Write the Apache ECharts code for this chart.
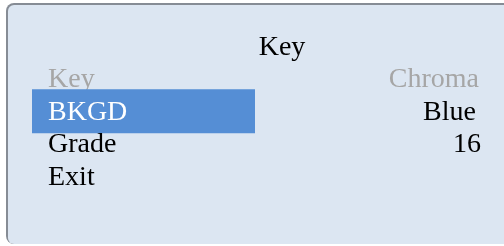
<!DOCTYPE html>
<html>
<head>
<meta charset="utf-8">
<script src="https://cdn.jsdelivr.net/npm/echarts@6/dist/echarts.min.js"></script>
<style>html,body{margin:0;padding:0;background:#fff;}#c{width:504px;height:246px;}</style>
</head>
<body>
<div id="c"></div>
<script>
// ---- data ----
var menuTitle = 'Key';
var menuItems = ['Key', 'BKGD', 'Grade', 'Exit'];
var menuValues = ['Chroma', 'Blue', '16', ''];
var itemState = ['disabled', 'selected', 'normal', 'normal'];

// ---- layout / style ----
var valueRightX = [479, 476, 481, 479];
var FONT = '"Liberation Serif", "Times New Roman", serif';

var chart = echarts.init(document.getElementById('c'), null, {renderer: 'canvas'});
chart.setOption({
  animation: false,
  backgroundColor: '#ffffff',
  grid: {left: 0, right: 0, top: 63, height: 130},
  xAxis: {type: 'value', min: 0, max: 504, show: false},
  yAxis: {type: 'category', data: menuItems, inverse: true, show: false},
  graphic: [
    {type: 'rect', z: 0, shape: {x: 6, y: 3, width: 510, height: 241, r: 8}, style: {fill: '#868c95'}},
    {type: 'rect', z: 1, shape: {x: 8, y: 5, width: 510, height: 239, r: 6}, style: {fill: '#dce6f2'}},
    {type: 'text', z: 5, x: 282, y: 48, style: {text: menuTitle, font: '28px ' + FONT, fill: '#000', align: 'center', verticalAlign: 'middle'}}
  ],
  series: [{
    type: 'custom',
    z: 10,
    data: menuItems.map(function (m, i) { return [0, i]; }),
    encode: {x: 0, y: 1},
    renderItem: function (params, api) {
      var i = api.value(1);
      var y = api.coord([0, i])[1];
      var st = itemState[i];
      var children = [];
      if (st === 'selected') {
        children.push({type: 'rect', shape: {x: 32, y: y - 22.5, width: 223, height: 44}, style: {fill: '#558ed5'}});
      }
      var col = st === 'disabled' ? '#a6a6a6' : (st === 'selected' ? '#ffffff' : '#000000');
      children.push({type: 'text', x: 48, y: y + 0.5, style: {text: menuItems[i], font: '28px ' + FONT, fill: col, align: 'left', verticalAlign: 'middle'}});
      if (menuValues[i]) {
        children.push({type: 'text', x: valueRightX[i], y: y + 0.5, style: {text: menuValues[i], font: '28px ' + FONT, fill: st === 'disabled' ? '#a6a6a6' : '#000000', align: 'right', verticalAlign: 'middle'}});
      }
      return {type: 'group', children: children};
    }
  }]
});
</script>
</body>
</html>
